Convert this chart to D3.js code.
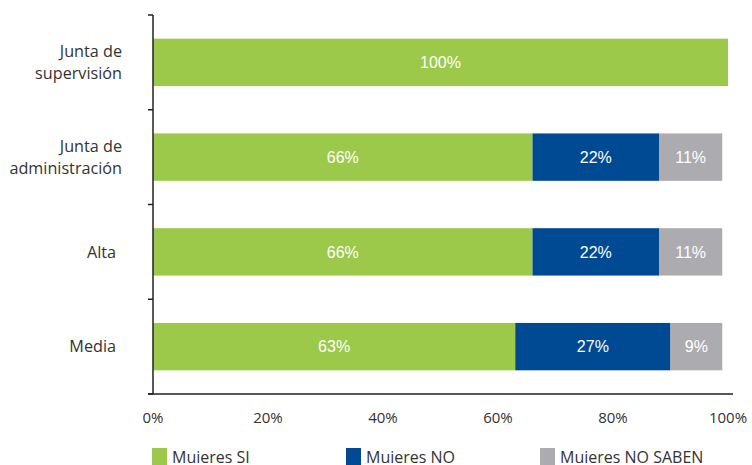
<!DOCTYPE html>
<html>
<head>
<meta charset="utf-8">
<script src="https://cdn.jsdelivr.net/npm/d3@7"></script>
<style>
  html, body { margin: 0; padding: 0; background: #fff; }
  svg { display: block; }
</style>
</head>
<body>
<svg id="chart" width="752" height="465"></svg>
<script>
// Categories (top to bottom) and their label lines
const categories = ["Junta de supervisión", "Junta de administración", "Alta", "Media"];
const categoryLines = [["Junta de", "supervisión"], ["Junta de", "administración"], ["Alta"], ["Media"]];

// Series values (percent)
const seriesNames = ["Muieres SI", "Muieres NO", "Muieres NO SABEN"];
const mujeresSi = [100, 66, 66, 63];
const mujeresNo = [0, 22, 22, 27];
const mujeresNoSaben = [0, 11, 11, 9];
const seriesColors = ["#9cc94a", "#004a93", "#acacb0"];

// Axis ticks
const xTicks = [0, 20, 40, 60, 80, 100];
const xTickLabels = ["0%", "20%", "40%", "60%", "80%", "100%"];

const svg = d3.select("#chart");

const x = d3.scaleLinear().domain([0, 100]).range([153, 728]);
const y = d3.scaleBand().domain(categories).range([15, 394]).paddingInner(0.5).paddingOuter(0.25);
const color = d3.scaleOrdinal().domain(seriesNames).range(seriesColors);

// Build stacked rows
const rows = categories.map((c, i) => ({
  cat: c,
  "Muieres SI": mujeresSi[i],
  "Muieres NO": mujeresNo[i],
  "Muieres NO SABEN": mujeresNoSaben[i]
}));
const stacked = d3.stack().keys(seriesNames)(rows);

// Bars
const layers = svg.append("g").selectAll("g").data(stacked).join("g")
  .attr("fill", d => color(d.key));

layers.selectAll("rect").data(d => d.filter(s => s[1] - s[0] > 0)).join("rect")
  .attr("x", d => x(d[0]))
  .attr("y", d => y(d.data.cat))
  .attr("width", d => x(d[1]) - x(d[0]))
  .attr("height", y.bandwidth());

// Value labels inside the segments
layers.selectAll("text").data(d => d.filter(s => s[1] - s[0] > 0)).join("text")
  .attr("x", d => (x(d[0]) + x(d[1])) / 2)
  .attr("y", d => y(d.data.cat) + y.bandwidth() / 2)
  .attr("dy", "0.36em")
  .attr("text-anchor", "middle")
  .attr("fill", "#fff")
  .attr("font-family", "Liberation Sans, Arial, sans-serif")
  .attr("font-size", 16)
  .text(d => Math.round(d[1] - d[0]) + "%");

// Y axis line with ticks at category boundaries
const axisColor = "#222";
const yTop = y.range()[0], yBottom = y.range()[1];
svg.append("line")
  .attr("x1", x(0)).attr("x2", x(0))
  .attr("y1", yTop).attr("y2", yBottom)
  .attr("stroke", axisColor).attr("stroke-width", 1.5);

const boundaries = d3.range(categories.length + 1).map(i => yTop + i * y.step());
svg.append("g").selectAll("line").data(boundaries).join("line")
  .attr("x1", x(0) - 5).attr("x2", x(0))
  .attr("y1", d => d).attr("y2", d => d)
  .attr("stroke", axisColor).attr("stroke-width", 1.5);

// X axis line
svg.append("line")
  .attr("x1", x(0) - 5).attr("x2", x(100) + 5)
  .attr("y1", yBottom).attr("y2", yBottom)
  .attr("stroke", axisColor).attr("stroke-width", 1.5);

// X tick labels
svg.append("g").selectAll("text").data(xTicks).join("text")
  .attr("x", d => x(d))
  .attr("y", 418)
  .attr("dy", "0.36em")
  .attr("text-anchor", "middle")
  .attr("fill", "#333")
  .attr("font-family", "Open Sans, sans-serif")
  .attr("font-size", 15)
  .text((d, i) => xTickLabels[i]);

// Category labels (two-line labels sit slightly further right)
const catLabels = svg.append("g").selectAll("text").data(categories).join("text")
  .attr("text-anchor", "end")
  .attr("fill", "#333")
  .attr("font-family", "Open Sans, sans-serif")
  .attr("font-size", 16.2);

catLabels.each(function(c, i) {
  const lines = categoryLines[i];
  const cy = y(c) + y.bandwidth() / 2;
  const lh = 22;
  const right = lines.length > 1 ? 122 : 116;
  const t = d3.select(this);
  lines.forEach((ln, j) => {
    t.append("tspan")
      .attr("x", right)
      .attr("y", cy + (j - (lines.length - 1) / 2) * lh)
      .attr("dy", "0.36em")
      .text(ln);
  });
});

// Legend
const legendX = [152, 346, 540];
const legend = svg.append("g").selectAll("g").data(seriesNames).join("g")
  .attr("transform", (d, i) => `translate(${legendX[i]},448)`);
legend.append("rect")
  .attr("width", 15).attr("height", 17)
  .attr("fill", d => color(d));
legend.append("text")
  .attr("x", 20).attr("y", 15)
  .attr("fill", "#333")
  .attr("font-family", "Open Sans, sans-serif")
  .attr("font-size", 16)
  .text(d => d);
</script>
</body>
</html>
